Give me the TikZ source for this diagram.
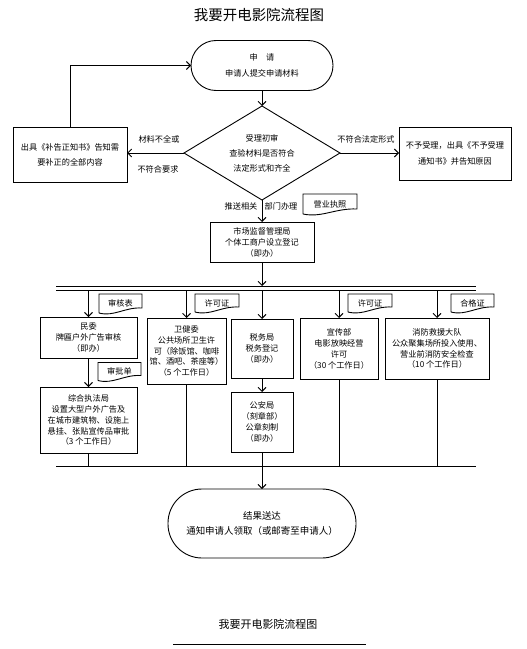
\documentclass[tikz,border=0pt]{standalone}
\usepackage{fontspec}
\setmainfont{Noto Sans CJK SC}
\usetikzlibrary{arrows.meta,shapes.geometric,calc}
\tikzset{
  every node/.style={inner sep=0pt,outer sep=0pt},
  ln/.style={line width=0.9bp},
  arr/.style={line width=0.9bp,-{Straight Barb[length=4bp,width=8bp,line width=0.9bp]}},
  boxs/.style={draw,line width=0.9bp,align=center,font=\fontsize{8.2}{11}\selectfont},
  terms/.style={draw,line width=0.9bp,align=center},
  docs/.style={align=center,font=\fontsize{8.2}{10}\selectfont},
  lbl/.style={font=\fontsize{8.2}{10}\selectfont},
}
\newcommand\mydoc[1]{%
  \draw[ln] (#1.south west) -- (#1.north west) -- (#1.north east) -- ([yshift=5bp]#1.south east)
    .. controls ($(#1.south west)!0.6!(#1.south east)+(0,-6)$) and ($(#1.south west)!0.35!(#1.south east)+(0,4)$) .. (#1.south west);}
\begin{document}
\begin{tikzpicture}[x=1bp,y=-1bp]
\useasboundingbox (0,0) rectangle (527,649);
% title
\node[font=\fontsize{14.5}{16}\selectfont] (title) at (259,15) {我要开电影院流程图};
% start terminal
\node[terms,minimum width=142bp,minimum height=50bp,rounded corners=25bp,font=\fontsize{8.2}{16}\selectfont] (start) at (262,65.5) {申　请\\申请人提交申请材料};
% diamond
\node[diamond,draw,line width=0.9bp,minimum width=156bp,minimum height=94bp,aspect=1.66,align=center,font=\fontsize{8.2}{15}\selectfont] (dia) at (262,153) {受理初审\\查验材料是否符合\\法定形式和齐全};
% left and right boxes
\node[boxs,minimum width=114bp,minimum height=55bp,font=\fontsize{8.2}{15}\selectfont] (lbox) at (70,154.5) {出具《补告正知书》告知需\\要补正的全部内容};
\node[boxs,minimum width=112bp,minimum height=53bp,font=\fontsize{8.2}{16}\selectfont] (rbox) at (455,153.5) {不予受理，出具《不予受理\\通知书》并告知原因};
% labels
\node[lbl] (l1) at (159,139) {材料不全或};
\node[lbl] (l2) at (158,169) {不符合要求};
\node[lbl] (l3) at (366,139.5) {不符合法定形式};
\node[lbl] (l4) at (241,206) {推送相关};
\node[lbl] (l5) at (281,206) {部门办理};
% connectors top
\draw[arr] (start.south) -- (dia.north);
\draw[arr] (dia.west) -- (dia.west -| lbox.east);
\draw[arr] (dia.east) -- (dia.east -| rbox.west);
\draw[arr] (lbox.north) |- (start.west);
% doc 营业执照
\node[docs,minimum width=54bp,minimum height=20bp] (d0) at (330,204) {营业执照};
% market box
\node[boxs,minimum width=104bp,minimum height=40bp] (mkt) at (262,242) {市场监督管理局\\个体工商户设立登记\\（即办）};
\draw[arr] (dia.south) -- (mkt.north);
% buses
\coordinate (bA1) at (56,286); \coordinate (bA2) at (476,286);
\coordinate (bB1) at (56,290); \coordinate (bB2) at (476,290);
\coordinate (bC1) at (56,466); \coordinate (bC2) at (476,466);
\draw[ln] (bA1) -- (bA2);
\draw[ln] (bB1) -- (bB2);
\draw[ln] (bC1) -- (bC2);
\draw[arr] (mkt.south) -- (mkt.south |- bA1);
% branch boxes
\node[boxs,minimum width=97bp,minimum height=41bp] (minwei) at (88.5,337.5) {民委\\牌匾户外广告审核\\（即办）};
\node[boxs,minimum width=97bp,minimum height=66bp] (zonghe) at (88.5,420) {综合执法局\\设置大型户外广告及\\在城市建筑物、设施上\\悬挂、张贴宣传品审批\\（3 个工作日）};
\node[boxs,minimum width=79bp,minimum height=66bp] (weijian) at (186.5,351) {卫健委\\公共场所卫生许\\可（除饭馆、咖啡\\馆、酒吧、茶座等）\\（5 个工作日）};
\node[boxs,minimum width=62bp,minimum height=59bp] (shuiwu) at (262,348.5) {税务局\\税务登记\\（即办）};
\node[boxs,minimum width=62bp,minimum height=60bp] (gongan) at (262,422) {公安局\\（刻章部）\\公章刻制\\（即办）};
\node[boxs,minimum width=78bp,minimum height=61bp] (xuan) at (339,348.5) {宣传部\\电影放映经营\\许可\\（30 个工作日）};
\node[boxs,minimum width=104bp,minimum height=61bp] (xiao) at (437,348.5) {消防救援大队\\公众聚集场所投入使用、\\营业前消防安全检查\\（10 个工作日）};
% docs
\node[docs,minimum width=43bp,minimum height=19bp] (d1) at (120.5,303.5) {审核表};
\node[docs,minimum width=43bp,minimum height=18bp] (d2) at (119.5,371.5) {审批单};
\node[docs,minimum width=44bp,minimum height=18bp] (d3) at (217,303) {许可证};
\node[docs,minimum width=44bp,minimum height=18bp] (d4) at (370,303) {许可证};
\node[docs,minimum width=43bp,minimum height=18bp] (d5) at (472.5,303) {合格证};
\mydoc{d0}\mydoc{d1}\mydoc{d2}\mydoc{d3}\mydoc{d4}\mydoc{d5}
% branch arrows
\draw[arr] (minwei.north |- bB1) -- (minwei.north);
\draw[arr] (weijian.north |- bB1) -- (weijian.north);
\draw[arr] (shuiwu.north |- bB1) -- (shuiwu.north);
\draw[arr] (xuan.north |- bB1) -- (xuan.north);
\draw[arr] (xiao.north |- bB1) -- (xiao.north);
\draw[arr] (minwei.south) -- (zonghe.north);
\draw[arr] (shuiwu.south) -- (gongan.north);
\draw[ln] (zonghe.south) -- (zonghe.south |- bC1);
\draw[ln] (weijian.south) -- (weijian.south |- bC1);
\draw[ln] (xuan.south) -- (xuan.south |- bC1);
\draw[ln] (xiao.south) -- (xiao.south |- bC1);
% end terminal
\node[terms,minimum width=188bp,minimum height=69bp,rounded corners=34bp,font=\fontsize{9.5}{15}\selectfont] (end) at (262,523.5) {结果送达\\通知申请人领取（或邮寄至申请人）};
\draw[arr] (gongan.south) -- (end.north);
% bottom title
\node[font=\fontsize{11}{13}\selectfont] (btitle) at (268,624) {我要开电影院流程图};
\coordinate (u1) at (173,644); \coordinate (u2) at (366,644);
\draw[ln] (u1) -- (u2);
\end{tikzpicture}
\end{document}
